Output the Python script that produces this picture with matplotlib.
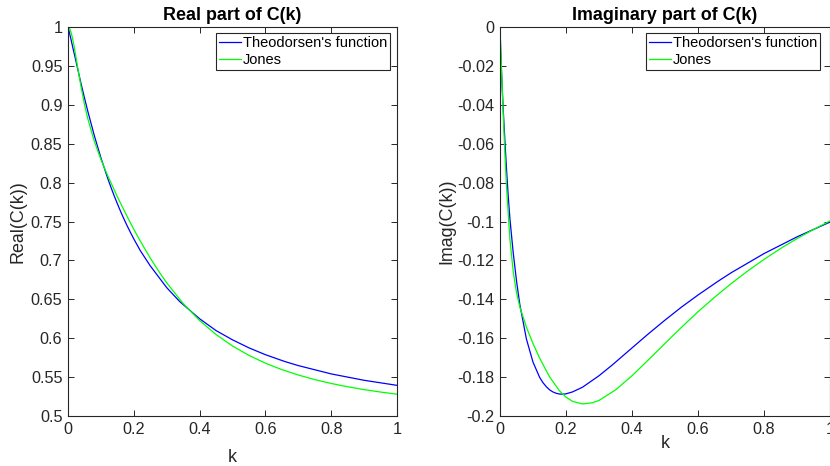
import matplotlib
matplotlib.use("Agg")
import matplotlib.pyplot as plt
from matplotlib.ticker import FuncFormatter, MultipleLocator

plt.rcParams['font.family'] = ['Liberation Sans', 'DejaVu Sans']

# Theodorsen's function C(k) = F + iG, tabulated values
k_theo = [0.0, 0.002, 0.005, 0.007, 0.01, 0.015, 0.02, 0.025, 0.03, 0.04, 0.05,
          0.06, 0.08, 0.10, 0.12, 0.13, 0.14, 0.15, 0.16, 0.17, 0.18, 0.19,
          0.20, 0.22, 0.25, 0.30, 0.34, 0.40, 0.45, 0.50, 0.55, 0.60, 0.66,
          0.70, 0.80, 0.90, 1.00]
re_theo = [1.0, 0.9967, 0.9913, 0.9878, 0.9824, 0.9728, 0.9638, 0.9545, 0.9450,
           0.9267, 0.9090, 0.8920, 0.8604, 0.8319, 0.8063, 0.7946, 0.7834,
           0.7729, 0.7628, 0.7533, 0.7443, 0.7358, 0.7276, 0.7124, 0.6930,
           0.6650, 0.6469, 0.6250, 0.6098, 0.5979, 0.5876, 0.5788, 0.5699,
           0.5648, 0.5541, 0.5459, 0.5394]
im_theo = [0.0, -0.0117, -0.0245, -0.0325, -0.0432, -0.0590, -0.0738, -0.0872,
           -0.0985, -0.1160, -0.1305, -0.1426, -0.1604, -0.1723, -0.1801,
           -0.1828, -0.1849, -0.1865, -0.1876, -0.1883, -0.1887, -0.1888,
           -0.1886, -0.1876, -0.1852, -0.1793, -0.1738, -0.1650, -0.1577,
           -0.1507, -0.1440, -0.1378, -0.1308, -0.1264, -0.1165, -0.1079,
           -0.1003]

# Jones approximation of C(k)
k_jones = [0.0, 0.002, 0.003, 0.005, 0.007, 0.01, 0.015, 0.02, 0.03, 0.04, 0.05,
           0.06, 0.08, 0.10, 0.12, 0.15, 0.18, 0.20, 0.22, 0.25, 0.28, 0.30,
           0.35, 0.40, 0.45, 0.50, 0.55, 0.60, 0.65, 0.70, 0.75, 0.80, 0.85,
           0.90, 0.95, 1.00]
re_jones = [1.0, 0.9997, 0.9993, 0.9979, 0.9960, 0.9920, 0.9830, 0.9718, 0.9467,
            0.9222, 0.9007, 0.8824, 0.8531, 0.8298, 0.8095, 0.7819, 0.7562,
            0.7400, 0.7246, 0.7030, 0.6833, 0.6712, 0.6446, 0.6227, 0.6047,
            0.5900, 0.5779, 0.5679, 0.5596, 0.5527, 0.5468, 0.5418, 0.5376,
            0.5339, 0.5308, 0.5280]
im_jones = [0.0, -0.0095, -0.0142, -0.0235, -0.0326, -0.0458, -0.0658, -0.0830,
            -0.1090, -0.1257, -0.1365, -0.1439, -0.1543, -0.1627, -0.1702,
            -0.1798, -0.1870, -0.1903, -0.1925, -0.1938, -0.1932, -0.1920,
            -0.1866, -0.1793, -0.1711, -0.1627, -0.1544, -0.1464, -0.1390,
            -0.1320, -0.1255, -0.1195, -0.1139, -0.1088, -0.1041, -0.0997]

series_labels = ["Theodorsen's function", "Jones"]
titles = ["Real part of C(k)", "Imaginary part of C(k)"]
ylabels = ["Real(C(k))", "Imag(C(k))"]

W, H = 830, 466
fig = plt.figure(figsize=(W / 100, H / 100), dpi=100)
fig.patch.set_facecolor('white')

dark = (0.15, 0.15, 0.15)
fmt = FuncFormatter(lambda v, p: ('%g' % round(v, 4)) if abs(v) > 1e-9 else '0')

def px_axes(x0, x1, y0, y1):
    return fig.add_axes([x0 / W, 1 - y1 / H, (x1 - x0) / W, (y1 - y0) / H])

ax1 = px_axes(68, 397, 27, 416)
ax2 = px_axes(500, 830, 27, 416)

ax1.plot(k_theo, re_theo, color='#0000ff', lw=0.9, label=series_labels[0])
ax1.plot(k_jones, re_jones, color='#00ff00', lw=0.9, label=series_labels[1])
ax2.plot(k_theo, im_theo, color='#0000ff', lw=0.9, label=series_labels[0])
ax2.plot(k_jones, im_jones, color='#00ff00', lw=0.9, label=series_labels[1])

ax1.set_ylim(0.5, 1.0)
ax1.yaxis.set_major_locator(MultipleLocator(0.05))
ax2.set_ylim(-0.2, 0.0)
ax2.yaxis.set_major_locator(MultipleLocator(0.02))

legend_anchor = [(0.9787, 0.9846), (0.9697, 0.9846)]
label_x = [(-0.0848, -0.125), (-0.0488, -0.136)]

for i, ax in enumerate([ax1, ax2]):
    ax.set_xlim(0, 1)
    ax.xaxis.set_major_locator(MultipleLocator(0.2))
    ax.xaxis.set_major_formatter(fmt)
    ax.yaxis.set_major_formatter(fmt)
    for s in ax.spines.values():
        s.set_color(dark)
        s.set_linewidth(0.8)
    ax.tick_params(direction='in', length=4, width=0.7, colors=dark,
                   labelsize=11.7, top=True, right=True, pad=4)
    ax.set_title(titles[i], fontsize=12.9, fontweight='bold', color='black', pad=5)
    ax.set_xlabel('k', fontsize=12.9, color=dark)
    ax.set_ylabel(ylabels[i], fontsize=12.9, color=dark)
    ax.xaxis.set_label_coords(0.5, label_x[i][0])
    ax.yaxis.set_label_coords(label_x[i][1], 0.5)
    leg = ax.legend(loc='upper right', bbox_to_anchor=legend_anchor[i],
                    borderaxespad=0, fontsize=10.5, fancybox=False,
                    framealpha=1, edgecolor=dark, handlelength=1.5,
                    handletextpad=0.15, borderpad=0.2, labelspacing=0.2)
    leg.get_frame().set_linewidth(0.8)

fig.savefig('out.png', dpi=100, facecolor='white')
